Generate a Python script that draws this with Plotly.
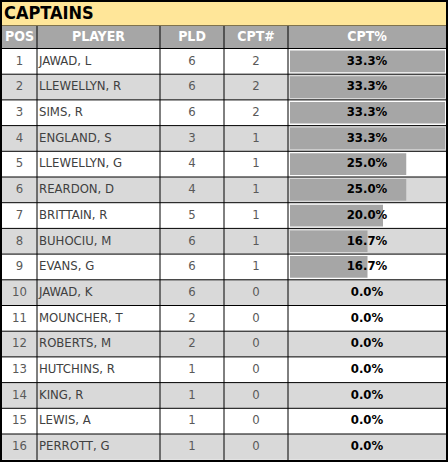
import plotly.graph_objects as go

pos = list(range(1, 17))
players = ["JAWAD, L", "LLEWELLYN, R", "SIMS, R", "ENGLAND, S", "LLEWELLYN, G",
           "REARDON, D", "BRITTAIN, R", "BUHOCIU, M", "EVANS, G", "JAWAD, K",
           "MOUNCHER, T", "ROBERTS, M", "HUTCHINS, R", "KING, R", "LEWIS, A",
           "PERROTT, G"]
pld = [6, 6, 6, 3, 4, 4, 5, 6, 6, 6, 2, 2, 1, 1, 1, 1]
cpt = [2, 2, 2, 1, 1, 1, 1, 1, 1, 0, 0, 0, 0, 0, 0, 0]
pct = [c / p * 100 for c, p in zip(cpt, pld)]
headers = ["POS", "PLAYER", "PLD", "CPT#", "CPT%"]

W, H = 448, 464
cols = [2, 37, 160, 224, 288, 446]
top0, rh = 48.5, 25.7
yc = [top0 + (i + 0.5) * rh for i in range(len(players))]
FONT = "DejaVu Sans Condensed, Liberation Sans Narrow, sans-serif"

shapes = []
# title and header bands
shapes.append(dict(type="rect", x0=1, x1=W - 1, y0=1, y1=26, fillcolor="#FFE699",
                   line=dict(width=1, color="black"), layer="below"))
shapes.append(dict(type="rect", x0=1, x1=W - 1, y0=26, y1=top0, fillcolor="#A6A6A6",
                   line=dict(width=0), layer="below"))
for i in range(len(players)):
    y0 = top0 + i * rh
    shapes.append(dict(type="rect", x0=1, x1=W - 1, y0=y0, y1=y0 + rh,
                       fillcolor="white" if i % 2 == 0 else "#D9D9D9",
                       line=dict(width=0), layer="below"))
    shapes.append(dict(type="line", x0=1, x1=W - 1, y0=y0, y1=y0,
                       line=dict(color="black", width=1)))
for x in cols[1:-1]:
    shapes.append(dict(type="line", x0=x, x1=x, y0=26, y1=H - 3,
                       line=dict(color="black", width=1)))
shapes.append(dict(type="rect", x0=1, x1=W - 1, y0=1, y1=H - 3,
                   line=dict(color="black", width=2)))

fig = go.Figure()
maxp = max(pct)
fig.add_trace(go.Bar(
    y=yc, x=[p / maxp * 155 for p in pct], base=cols[4] + 2, orientation="h",
    width=rh - 4, marker=dict(color="#A6A6A6", line=dict(width=0)),
    hoverinfo="skip"))

mid = lambda a, b: (a + b) / 2
txt = dict(mode="text", hoverinfo="skip", cliponaxis=False)
fig.add_trace(go.Scatter(x=[mid(cols[0], cols[1])] * 16, y=yc, text=[str(p) for p in pos],
                         textfont=dict(family=FONT, size=13, color="#595959"), **txt))
fig.add_trace(go.Scatter(x=[cols[1] + 2] * 16, y=yc, text=players, textposition="middle right",
                         textfont=dict(family=FONT, size=13, color="#404040"), **txt))
fig.add_trace(go.Scatter(x=[mid(cols[2], cols[3])] * 16, y=yc, text=[str(v) for v in pld],
                         textfont=dict(family=FONT, size=13, color="#595959"), **txt))
fig.add_trace(go.Scatter(x=[mid(cols[3], cols[4])] * 16, y=yc, text=[str(v) for v in cpt],
                         textfont=dict(family=FONT, size=13, color="#595959"), **txt))
fig.add_trace(go.Scatter(x=[mid(cols[4], cols[5])] * 16, y=yc, text=[f"<b>{v:.1f}%</b>" for v in pct],
                         textfont=dict(family=FONT, size=13, color="black"), **txt))
fig.add_trace(go.Scatter(x=[mid(cols[i], cols[i + 1]) for i in range(5)], y=[37.5] * 5,
                         text=[f"<b>{h}</b>" for h in headers],
                         textfont=dict(family=FONT, size=14, color="white"), **txt))
fig.add_trace(go.Scatter(x=[4], y=[14], text=["<b>CAPTAINS</b>"], textposition="middle right",
                         textfont=dict(family=FONT, size=18, color="black"), **txt))

fig.update_layout(
    width=W, height=H, margin=dict(l=0, r=0, t=0, b=0),
    plot_bgcolor="white", paper_bgcolor="white", showlegend=False, shapes=shapes,
    xaxis=dict(range=[0, W], visible=False, fixedrange=True),
    yaxis=dict(range=[H, 0], visible=False, fixedrange=True),
)
fig.write_html("out.html", config={"displayModeBar": False},
               post_script="document.body.style.margin='0';document.body.style.overflow='hidden';")
